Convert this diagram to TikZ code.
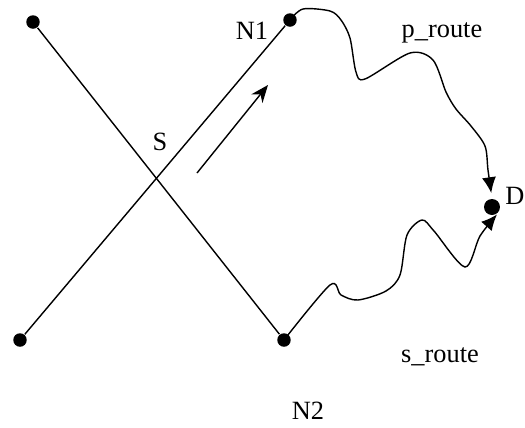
\documentclass[tikz,border=0pt]{standalone}
\usepackage{fontspec}
\setmainfont{Liberation Serif}
\usetikzlibrary{arrows.meta}

\begin{document}
\begin{tikzpicture}[x=0.02cm, y=-0.02cm, line width=0.8pt,
  dot/.style={circle, fill=black, inner sep=0pt, minimum size=0.27cm},
  lbl/.style={font=\fontsize{15}{18}\selectfont},
  tip/.style={-{Latex[length=9pt, width=8pt]}}]
\useasboundingbox (0,0) rectangle (525,427);

% Nodes
\node[dot] (A) at (33,22) {};
\node[dot] (N1) at (290,20) {};
\node[dot] (B) at (20,340) {};
\node[dot] (N2) at (284,340) {};
\node[dot, minimum width=0.28cm, minimum height=0.32cm] (D) at (492,207) {};

% Labels
\node[lbl] (lN1) at (252,31) {N1};
\node[lbl] (lS) at (160,142) {S};
\node[lbl] (lp) at (442,33) {p\_route};
\node[lbl] (lD) at (515,196) {D};
\node[lbl] (ls) at (440,357) {s\_route};
\node[lbl] (lN2) at (308,411) {N2};

% Crossing links
\draw (A) -- (N2);
\draw (B) -- (N1);

% Direction of travel
\coordinate (a0) at (197,173);
\coordinate (a1) at (268,85);
\draw[-{Stealth[length=10pt, width=8pt]}] (a0) -- (a1);

% Primary route
\draw[tip, shorten >=3pt] plot[smooth, tension=0.5] coordinates {(N1.center) (303,9) (330,11) (341,20) (350,38) (356,72) (365,79) (410,53) (433,60) (446,92) (456,109) (471,126) (485,146) (488,170) (D.north)};

% Secondary route
\draw[tip, shorten >=1pt] plot[smooth, tension=0.5] coordinates {(N2.center) (330,285) (341,295) (358,300) (386,291) (400,275) (407,235) (422,220) (434,231) (465,267) (480,236) (D.south east)};

\end{tikzpicture}
\end{document}
